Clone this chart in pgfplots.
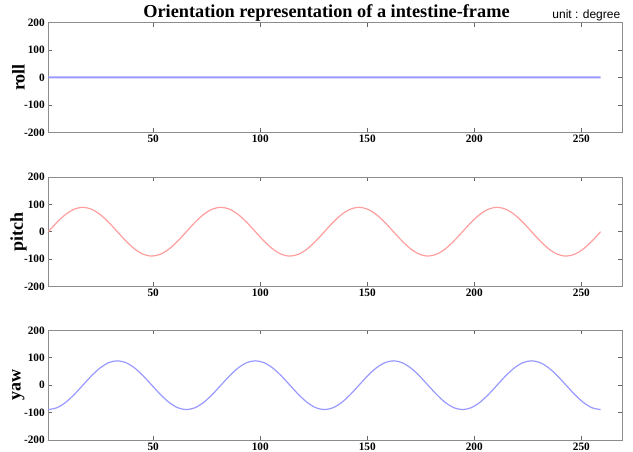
\documentclass[border=0pt]{standalone}
\usepackage{fontspec}
\setmainfont{Liberation Serif}
\newfontfamily\arialfont{Liberation Sans}
\usepackage{pgfplots}
\usepackage{pgfplotstable}
\pgfplotsset{compat=1.18}
\definecolor{lblue}{rgb}{0.6,0.6,1}
\definecolor{lred}{rgb}{1,0.62,0.62}
\pgfplotstableread{
x pitch yaw
1.00 0 -89
5.03 34.1 -82.2
9.06 62.9 -62.9
13.09 82.2 -34.1
17.13 89 0
21.16 82.2 34.1
25.19 62.9 62.9
29.22 34.1 82.2
33.25 0 89
37.28 -34.1 82.2
41.31 -62.9 62.9
45.34 -82.2 34.1
49.38 -89 0
53.41 -82.2 -34.1
57.44 -62.9 -62.9
61.47 -34.1 -82.2
65.50 0 -89
69.53 34.1 -82.2
73.56 62.9 -62.9
77.59 82.2 -34.1
81.63 89 0
85.66 82.2 34.1
89.69 62.9 62.9
93.72 34.1 82.2
97.75 0 89
101.78 -34.1 82.2
105.81 -62.9 62.9
109.84 -82.2 34.1
113.88 -89 0
117.91 -82.2 -34.1
121.94 -62.9 -62.9
125.97 -34.1 -82.2
130.00 0 -89
134.03 34.1 -82.2
138.06 62.9 -62.9
142.09 82.2 -34.1
146.13 89 0
150.16 82.2 34.1
154.19 62.9 62.9
158.22 34.1 82.2
162.25 0 89
166.28 -34.1 82.2
170.31 -62.9 62.9
174.34 -82.2 34.1
178.38 -89 0
182.41 -82.2 -34.1
186.44 -62.9 -62.9
190.47 -34.1 -82.2
194.50 0 -89
198.53 34.1 -82.2
202.56 62.9 -62.9
206.59 82.2 -34.1
210.63 89 0
214.66 82.2 34.1
218.69 62.9 62.9
222.72 34.1 82.2
226.75 0 89
230.78 -34.1 82.2
234.81 -62.9 62.9
238.84 -82.2 34.1
242.88 -89 0
246.91 -82.2 -34.1
250.94 -62.9 -62.9
254.97 -34.1 -82.2
259.00 0 -89
}\ortable
\pgfplotstableread{
x roll
1 0.30
130 0.31
259 0.30
}\rolltable
\pgfplotsset{
  panel/.style={
    scale only axis,
    width=573.7pt, height=109.6pt,
    anchor=south west,
    xmin=1, xmax=269, ymin=-200, ymax=200,
    xtick={50,100,150,200,250},
    xticklabels={50,100,150,200,250},
    ytick={-200,-100,0,100,200},
    yticklabels={-200,-100,0,100,200},
    axis line style={black!45, line width=0.8pt},
    major tick length=4pt,
    tick style={black!60, line width=0.7pt},
    tick label style={font=\bfseries\fontsize{11.3}{11.3}\selectfont},
    ylabel style={at={(axis description cs:-0.052,0.5)}, anchor=center, font=\bfseries\fontsize{18}{18}\selectfont},
    xticklabel style={yshift=1pt},
  }
}
\begin{document}
\begin{tikzpicture}
\path[use as bounding box] (-48.3pt,132.3pt) rectangle (584.7pt,-319.7pt);
\begin{axis}[panel, at={(0pt,0pt)}, ylabel={roll}]
\addplot[color=lblue, line width=2pt] table[x=x, y=roll] {\rolltable};
\end{axis}
\begin{axis}[panel, at={(0pt,-154.2pt)}, ylabel={pitch}]
\addplot[color=lred, line width=1.2pt, smooth] table[x=x, y=pitch] {\ortable};
\end{axis}
\begin{axis}[panel, at={(0pt,-307.7pt)}, ylabel={yaw}]
\addplot[color=lblue, line width=1.2pt, smooth] table[x=x, y=yaw] {\ortable};
\end{axis}
\node[font=\bfseries\fontsize{18.3}{18.3}\selectfont] at (278.2pt,119.3pt) {Orientation representation of a intestine-frame};
\node[font=\arialfont\fontsize{12}{12}\selectfont, anchor=east] at (575.5pt,116.5pt) {unit : degree};
\end{tikzpicture}
\end{document}
